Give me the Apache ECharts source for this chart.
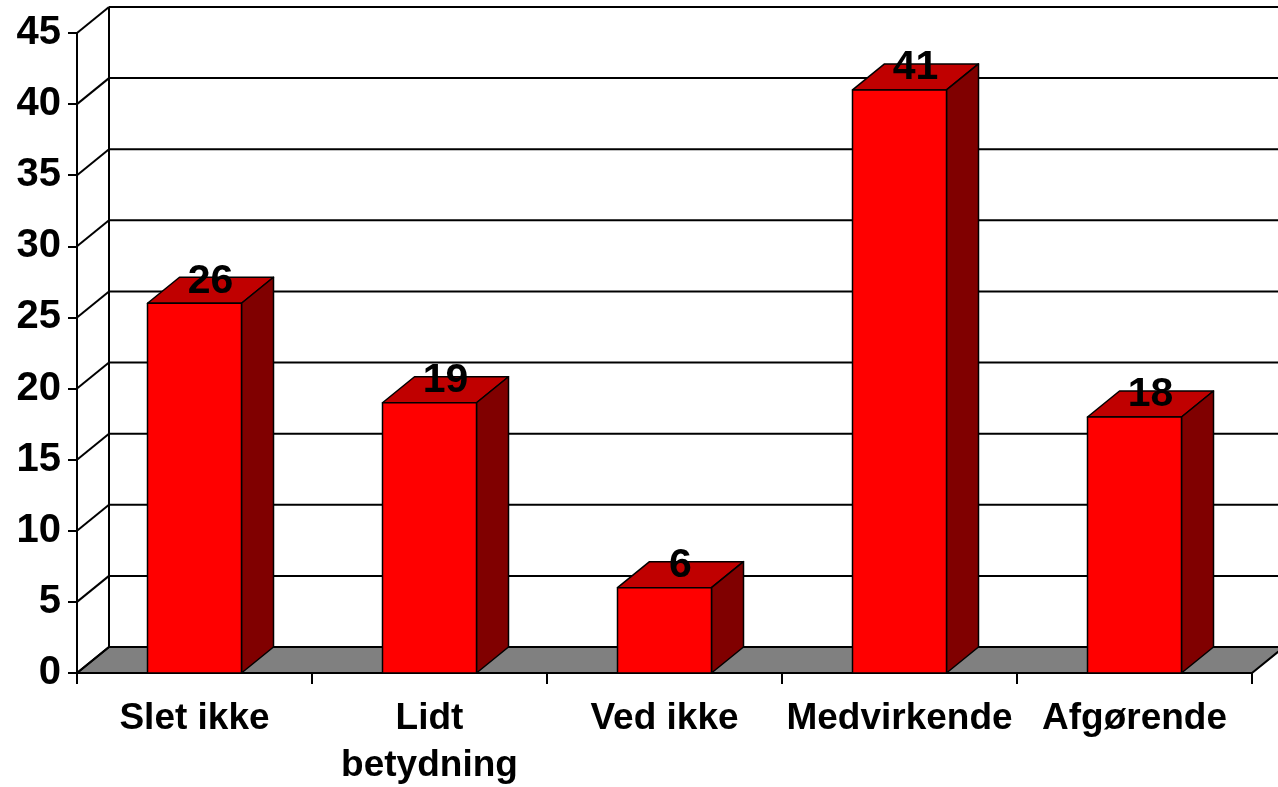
<!DOCTYPE html>
<html><head><meta charset="utf-8">
<script src="https://cdn.jsdelivr.net/npm/echarts@6/dist/echarts.min.js"></script>
<style>html,body{margin:0;padding:0;background:#fff}#c{width:1278px;height:787px}</style>
</head><body><div id="c"></div>
<script>
const categories = ['Slet ikke', 'Lidt\nbetydning', 'Ved ikke', 'Medvirkende', 'Afgørende'];
const values = [26, 19, 6, 41, 18];
const yTicks = [0, 5, 10, 15, 20, 25, 30, 35, 40, 45];

const FONT = '"Liberation Sans Narrow", "Arial Narrow", "Liberation Sans", Arial, sans-serif';
const DX = 32, DY = -26;

const chart = echarts.init(document.getElementById('c'));
chart.setOption({
  animation: false,
  backgroundColor: '#fff',
  grid: { left: 77, right: 26, top: 33, bottom: 114, outerBoundsMode: 'none', containLabel: false },
  xAxis: {
    type: 'category', data: categories,
    axisLine: { show: true, lineStyle: { color: '#000', width: 2 } },
    axisTick: { show: true, length: 11, lineStyle: { color: '#000', width: 2 } },
    axisLabel: { interval: 0, color: '#000', fontFamily: FONT, fontWeight: 'bold', fontSize: 37, lineHeight: 47, margin: 22 },
    splitLine: { show: false }
  },
  yAxis: {
    type: 'value', min: 0, max: 45, interval: 5,
    axisLine: { show: true, lineStyle: { color: '#000', width: 2 } },
    axisTick: { show: true, length: 9, lineStyle: { color: '#000', width: 2 } },
    axisLabel: { color: '#000', fontFamily: FONT, fontWeight: 'bold', fontSize: 40, margin: 16, padding: [8, 0, 0, 0] },
    splitLine: { show: false }
  },
  series: [
    {
      type: 'custom', silent: true, z: 1,
      data: [[0, 0]],
      renderItem: function (params, api) {
        const cs = params.coordSys;
        const y0 = api.coord([0, 0])[1];
        const x0 = cs.x, x1 = cs.x + cs.width;
        return {
          type: 'polygon',
          shape: { points: [[x0, y0], [x1, y0], [x1 + DX, y0 + DY], [x0 + DX, y0 + DY]] },
          style: { fill: '#808080', stroke: '#000', lineWidth: 2 }
        };
      }
    },
    {
      type: 'custom', silent: true, z: 2,
      data: yTicks.map(v => [0, v]),
      renderItem: function (params, api) {
        const cs = params.coordSys;
        const v = api.value(1);
        const y = api.coord([0, v])[1];
        const x0 = cs.x;
        const children = [
          { type: 'line', shape: { x1: x0, y1: y, x2: x0 + DX, y2: y + DY }, style: { stroke: '#000', lineWidth: 2 } },
          { type: 'line', shape: { x1: x0 + DX, y1: y + DY, x2: cs.x + cs.width + DX + 10, y2: y + DY }, style: { stroke: '#000', lineWidth: 2 } }
        ];
        if (v === yTicks[yTicks.length - 1]) {
          const yb = api.coord([0, 0])[1];
          children.push({ type: 'line', shape: { x1: x0 + DX, y1: y + DY, x2: x0 + DX, y2: yb + DY }, style: { stroke: '#000', lineWidth: 2 } });
        }
        return { type: 'group', children: children };
      }
    },
    {
      type: 'custom', silent: true, z: 3,
      data: values.map((v, i) => [i, v]),
      renderItem: function (params, api) {
        const i = api.value(0), v = api.value(1);
        const top = api.coord([i, v]);
        const base = api.coord([i, 0]);
        const bw = api.size([1, 0])[0] * 0.4;
        const xl = top[0] - bw / 2, xr = top[0] + bw / 2;
        const yt = top[1], yb = base[1];
        const st = { stroke: '#000', lineWidth: 1.5, lineJoin: 'round' };
        return {
          type: 'group',
          children: [
            { type: 'polygon', shape: { points: [[xl, yt], [xr, yt], [xr + DX, yt + DY], [xl + DX, yt + DY]] }, style: Object.assign({ fill: '#C00000' }, st) },
            { type: 'polygon', shape: { points: [[xr, yt], [xr + DX, yt + DY], [xr + DX, yb + DY], [xr, yb]] }, style: Object.assign({ fill: '#800000' }, st) },
            { type: 'rect', shape: { x: xl, y: yt, width: bw, height: yb - yt }, style: Object.assign({ fill: '#FF0000' }, st) },
            { type: 'text', x: top[0] + DX / 2, y: yt + DY + 4, style: { text: String(v), fill: '#000', font: 'bold 41px ' + FONT, align: 'center', verticalAlign: 'middle' } }
          ]
        };
      }
    }
  ]
});
</script></body></html>
